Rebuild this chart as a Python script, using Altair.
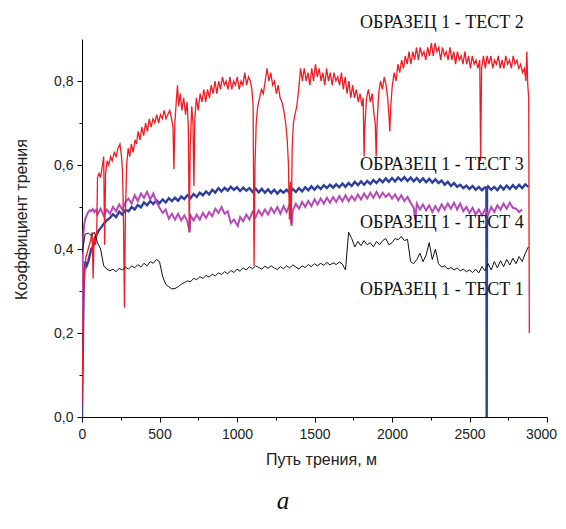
import altair as alt
import pandas as pd

# ---------------- data ----------------
# ОБРАЗЕЦ 1 - ТЕСТ 2 (red)
red_dist = [0, 8, 15, 25, 40, 55, 65, 72, 78, 88, 95, 100, 110, 120, 132, 140, 146, 152, 162, 172, 185, 195,
            208, 220, 232, 245, 255, 262, 268, 274, 280, 288, 298, 308, 318, 330, 342, 352, 362, 374, 386, 398,
            410, 422, 434, 446, 458, 470, 482, 494, 506, 518, 530, 542, 554, 566, 578, 587, 593, 599, 608, 616,
            624, 634, 644, 656, 668, 678, 686, 692, 698, 708, 716, 722, 728, 738, 750, 762, 774, 786, 798, 810,
            822, 834, 846, 858, 870, 882, 894, 906, 918, 930, 942, 954, 966, 978, 990, 1002, 1014, 1026, 1038,
            1050, 1062, 1074, 1086, 1096, 1104, 1110, 1116, 1124, 1134, 1146, 1158, 1170, 1182, 1194, 1206, 1218,
            1230, 1242, 1254, 1266, 1278, 1290, 1302, 1314, 1324, 1332, 1338, 1344, 1350, 1356, 1364, 1374, 1386,
            1398, 1410, 1422, 1434, 1446, 1458, 1470, 1482, 1494, 1506, 1518, 1530, 1542, 1554, 1566, 1578, 1590,
            1602, 1614, 1626, 1638, 1650, 1662, 1674, 1686, 1698, 1710, 1722, 1734, 1746, 1758, 1770, 1782, 1794,
            1806, 1814, 1820, 1826, 1836, 1848, 1860, 1872, 1884, 1892, 1898, 1904, 1914, 1926, 1938, 1950, 1962,
            1972, 1980, 1986, 1992, 2002, 2014, 2026, 2038, 2050, 2062, 2074, 2086, 2098, 2110, 2122, 2134, 2146,
            2158, 2170, 2182, 2194, 2206, 2218, 2230, 2242, 2254, 2266, 2278, 2290, 2302, 2314, 2326, 2338, 2350,
            2362, 2374, 2386, 2398, 2410, 2422, 2434, 2446, 2458, 2470, 2482, 2494, 2506, 2518, 2530, 2542, 2554,
            2566, 2572, 2578, 2590, 2602, 2614, 2626, 2638, 2650, 2662, 2674, 2686, 2698, 2710, 2722, 2734, 2746,
            2758, 2770, 2782, 2794, 2806, 2818, 2830, 2842, 2854, 2864, 2870, 2876, 2882, 2886]
red_cof = [0.03, 0.25, 0.34, 0.38, 0.40, 0.42, 0.44, 0.33, 0.43, 0.41, 0.44, 0.57, 0.58, 0.57, 0.60, 0.62, 0.41,
           0.58, 0.61, 0.60, 0.62, 0.61, 0.63, 0.62, 0.64, 0.65, 0.62, 0.58, 0.46, 0.26, 0.48, 0.60, 0.64, 0.62,
           0.65, 0.63, 0.66, 0.65, 0.68, 0.66, 0.69, 0.67, 0.70, 0.68, 0.71, 0.69, 0.71, 0.70, 0.72, 0.70, 0.72,
           0.71, 0.73, 0.71, 0.72, 0.73, 0.71, 0.69, 0.59, 0.70, 0.75, 0.79, 0.74, 0.77, 0.73, 0.76, 0.72, 0.75,
           0.69, 0.44, 0.64, 0.74, 0.70, 0.55, 0.71, 0.76, 0.73, 0.77, 0.75, 0.78, 0.75, 0.78, 0.76, 0.79, 0.77,
           0.80, 0.77, 0.80, 0.78, 0.81, 0.79, 0.80, 0.78, 0.81, 0.78, 0.80, 0.79, 0.81, 0.78, 0.80, 0.79, 0.82,
           0.79, 0.81, 0.80, 0.78, 0.74, 0.36, 0.60, 0.70, 0.74, 0.76, 0.78, 0.77, 0.80, 0.83, 0.80, 0.82, 0.79,
           0.80, 0.77, 0.79, 0.76, 0.75, 0.73, 0.70, 0.66, 0.60, 0.47, 0.56, 0.46, 0.64, 0.70, 0.72, 0.74, 0.78,
           0.83, 0.80, 0.83, 0.80, 0.82, 0.79, 0.83, 0.80, 0.84, 0.81, 0.83, 0.80, 0.82, 0.79, 0.83, 0.80, 0.82,
           0.79, 0.82, 0.80, 0.81, 0.79, 0.82, 0.78, 0.81, 0.77, 0.80, 0.76, 0.79, 0.76, 0.78, 0.75, 0.77, 0.74,
           0.76, 0.62, 0.70, 0.76, 0.78, 0.75, 0.77, 0.72, 0.70, 0.62, 0.70, 0.77, 0.80, 0.78, 0.81, 0.79, 0.76,
           0.72, 0.68, 0.74, 0.79, 0.82, 0.80, 0.84, 0.82, 0.85, 0.83, 0.86, 0.84, 0.87, 0.84, 0.87, 0.85, 0.88,
           0.85, 0.88, 0.86, 0.87, 0.85, 0.88, 0.86, 0.89, 0.86, 0.89, 0.87, 0.88, 0.85, 0.88, 0.86, 0.87, 0.85,
           0.88, 0.85, 0.87, 0.84, 0.87, 0.85, 0.86, 0.84, 0.87, 0.84, 0.86, 0.83, 0.86, 0.84, 0.85, 0.83, 0.85,
           0.61, 0.83, 0.86, 0.83, 0.86, 0.84, 0.86, 0.83, 0.85, 0.84, 0.86, 0.83, 0.85, 0.83, 0.86, 0.84, 0.85,
           0.83, 0.86, 0.84, 0.85, 0.83, 0.84, 0.82, 0.83, 0.80, 0.87, 0.79, 0.76, 0.20]

# ОБРАЗЕЦ 1 - ТЕСТ 3 (blue)
blue_dist_head = [0, 5, 10, 15, 20, 30, 40, 50, 60, 70, 80, 95, 110, 125, 140, 160, 180]
blue_cof_head = [0.0, 0.15, 0.30, 0.35, 0.37, 0.36, 0.37, 0.385, 0.40, 0.405, 0.42, 0.435, 0.445, 0.452, 0.46,
                 0.468, 0.474]
blue_dist_body = list(range(200, 2900, 20))
blue_cof_body = [0.483, 0.476, 0.489, 0.482, 0.493, 0.490, 0.500, 0.494, 0.505, 0.499,
                 0.511, 0.504, 0.514, 0.507, 0.516, 0.509, 0.518, 0.511, 0.521, 0.514,
                 0.522, 0.515, 0.525, 0.519, 0.528, 0.521, 0.531, 0.524, 0.534, 0.528,
                 0.537, 0.530, 0.541, 0.534, 0.545, 0.537, 0.546, 0.539, 0.548, 0.541,
                 0.547, 0.538, 0.546, 0.539, 0.545, 0.536, 0.544, 0.535, 0.543, 0.534,
                 0.542, 0.533, 0.541, 0.532, 0.540, 0.534, 0.541, 0.533, 0.543, 0.536,
                 0.545, 0.537, 0.547, 0.540, 0.549, 0.541, 0.550, 0.543, 0.552, 0.545,
                 0.553, 0.546, 0.554, 0.547, 0.556, 0.548, 0.557, 0.550, 0.560, 0.552,
                 0.561, 0.553, 0.562, 0.555, 0.564, 0.557, 0.566, 0.559, 0.568, 0.560,
                 0.569, 0.561, 0.570, 0.563, 0.571, 0.562, 0.570, 0.561, 0.569, 0.560,
                 0.568, 0.559, 0.567, 0.558, 0.566, 0.557, 0.563, 0.553, 0.560, 0.550,
                 0.557, 0.548, 0.553, 0.545, 0.551, 0.543, 0.550, 0.541, 0.548, 0.540,
                 0.547, 0.549, 0.541, 0.548, 0.540, 0.550, 0.542, 0.551, 0.543, 0.552,
                 0.544, 0.553, 0.545, 0.554, 0.548]
blue_dist_drop = [2609, 2611, 2613]
blue_cof_drop = [0.546, 0.0, 0.544]

# ОБРАЗЕЦ 1 - ТЕСТ 4 (magenta)
mag_dist_head = [0, 3, 6, 10, 15, 20, 30, 40, 50, 60, 70, 80, 90]
mag_cof_head = [0.20, 0.30, 0.40, 0.44, 0.46, 0.47, 0.48, 0.488, 0.492, 0.49, 0.495, 0.488, 0.493]
mag_dist_body = list(range(100, 2860, 20))
mag_cof_body = [0.482, 0.496, 0.480, 0.494, 0.484, 0.500, 0.490, 0.506, 0.494, 0.512,
                0.520, 0.508, 0.528, 0.514, 0.532, 0.522, 0.536, 0.518, 0.532, 0.512,
                0.498, 0.486, 0.494, 0.472, 0.484, 0.470, 0.484, 0.468, 0.480, 0.466,
                0.480, 0.468, 0.482, 0.470, 0.486, 0.474, 0.488, 0.478, 0.496, 0.486,
                0.500, 0.484, 0.490, 0.462, 0.470, 0.458, 0.476, 0.466, 0.482, 0.470,
                0.488, 0.476, 0.492, 0.480, 0.494, 0.482, 0.498, 0.486, 0.500, 0.484,
                0.502, 0.488, 0.506, 0.492, 0.508, 0.496, 0.512, 0.500, 0.514, 0.502,
                0.518, 0.506, 0.520, 0.508, 0.522, 0.510, 0.524, 0.512, 0.526, 0.514,
                0.528, 0.514, 0.526, 0.516, 0.530, 0.518, 0.532, 0.520, 0.534, 0.522,
                0.536, 0.522, 0.534, 0.524, 0.532, 0.520, 0.530, 0.516, 0.528, 0.514,
                0.524, 0.510, 0.498, 0.508, 0.494, 0.506, 0.492, 0.504, 0.488, 0.502,
                0.490, 0.506, 0.494, 0.508, 0.496, 0.510, 0.494, 0.508, 0.490, 0.500,
                0.486, 0.498, 0.482, 0.494, 0.480, 0.494, 0.482, 0.500, 0.488, 0.504,
                0.494, 0.508, 0.496, 0.510, 0.498, 0.496, 0.488, 0.494]
mag_dist_spikes = [695, 1005, 1352, 2150]
mag_cof_spikes = [0.44, 0.455, 0.455, 0.47]

# ОБРАЗЕЦ 1 - ТЕСТ 1 (black)
black_dist = list(range(0, 2900, 20))
black_cof = [0.39, 0.435, 0.438, 0.432, 0.44, 0.415, 0.40, 0.36, 0.352, 0.348,
             0.352, 0.346, 0.354, 0.35, 0.357, 0.352, 0.36, 0.355, 0.363, 0.357,
             0.366, 0.36, 0.37, 0.366, 0.375, 0.37, 0.335, 0.316, 0.31, 0.305,
             0.306, 0.31, 0.316, 0.32, 0.324, 0.322, 0.33, 0.327, 0.334, 0.33,
             0.337, 0.333, 0.34, 0.336, 0.343, 0.339, 0.346, 0.341, 0.349, 0.344,
             0.352, 0.347, 0.355, 0.35, 0.358, 0.353, 0.36, 0.356, 0.352, 0.359,
             0.354, 0.36, 0.355, 0.351, 0.358, 0.353, 0.36, 0.355, 0.362, 0.357,
             0.352, 0.36, 0.356, 0.363, 0.358, 0.365, 0.36, 0.366, 0.361, 0.368,
             0.362, 0.367, 0.363, 0.369, 0.364, 0.35, 0.44, 0.425, 0.405, 0.418,
             0.408, 0.42, 0.41, 0.415, 0.405, 0.418, 0.41, 0.42, 0.425, 0.41,
             0.415, 0.425, 0.422, 0.43, 0.42, 0.423, 0.37, 0.365, 0.375, 0.39,
             0.37, 0.385, 0.415, 0.375, 0.40, 0.365, 0.357, 0.36, 0.352, 0.356,
             0.35, 0.355, 0.348, 0.352, 0.346, 0.35, 0.344, 0.352, 0.343, 0.358,
             0.348, 0.365, 0.35, 0.37, 0.355, 0.372, 0.358, 0.375, 0.362, 0.378,
             0.365, 0.382, 0.37, 0.39, 0.405]

# series labels
label_text = ["ОБРАЗЕЦ 1 - ТЕСТ 2", "ОБРАЗЕЦ 1 - ТЕСТ 3", "ОБРАЗЕЦ 1 - ТЕСТ 4", "ОБРАЗЕЦ 1 - ТЕСТ 1"]
label_dist = [1794, 1794, 1794, 1794]
label_cof = [0.937, 0.599, 0.461, 0.302]

x_tick_values = list(range(0, 3001, 250))
y_tick_values = [0.0, 0.1, 0.2, 0.3, 0.4, 0.5, 0.6, 0.7, 0.8]

# ---------------- tables ----------------
red_df = pd.DataFrame({"dist": red_dist, "cof": red_cof})
blue_df = pd.DataFrame({"dist": blue_dist_head + blue_dist_body + blue_dist_drop,
                        "cof": blue_cof_head + blue_cof_body + blue_cof_drop}).sort_values("dist")
mag_df = pd.DataFrame({"dist": mag_dist_head + mag_dist_body + mag_dist_spikes,
                       "cof": mag_cof_head + mag_cof_body + mag_cof_spikes}).sort_values("dist")
black_df = pd.DataFrame({"dist": black_dist, "cof": black_cof})
label_df = pd.DataFrame({"dist": label_dist, "cof": label_cof, "text": label_text})

# ---------------- scales & axes ----------------
x_scale = alt.Scale(domain=[0, 3000], nice=False, zero=False)
y_scale = alt.Scale(domain=[0, 0.9], nice=False, zero=False)

x_axis = alt.Axis(
    values=x_tick_values, format="d", labelFlush=False, labelOverlap=False, labelBound=False,
    labelExpr="datum.value % 500 === 0 ? datum.label : ''",
    labelOffset={"condition": {"test": "datum.value === 3000", "value": -6}, "value": 0},
    tickSize={"condition": {"test": "datum.value % 500 === 0", "value": 5}, "value": 3},
    title="Путь трения, м", titleX=239, titlePadding=10,
    grid=False, domainColor="black", tickColor="black", domainWidth=1, tickWidth=1,
    labelFont="Liberation Sans", labelFontSize=14, labelColor="#222", labelPadding=5,
    titleFont="Liberation Sans", titleFontSize=16, titleFontWeight="normal", titleColor="#222",
)
y_axis = alt.Axis(
    values=y_tick_values, labelFlush=False, labelOverlap=False,
    labelExpr="round(datum.value * 10) % 2 === 0 ? replace(format(datum.value, '.1f'), '.', ',') : ''",
    tickSize={"condition": {"test": "round(datum.value * 10) % 2 === 0", "value": 5}, "value": 3},
    title="Коэффициент трения", titleY=180, titlePadding=24,
    grid=False, domainColor="black", tickColor="black", domainWidth=1, tickWidth=1,
    labelFont="Liberation Sans", labelFontSize=14, labelColor="#222", labelPadding=4,
    titleFont="Liberation Sans", titleFontSize=16, titleFontWeight="normal", titleColor="#222",
)

x_enc = alt.X("dist:Q", scale=x_scale, axis=x_axis)
y_enc = alt.Y("cof:Q", scale=y_scale, axis=y_axis)


def line(df, color, width):
    return alt.Chart(df).mark_line(color=color, strokeWidth=width, clip=True).encode(x=x_enc, y=y_enc)


blue = line(blue_df, "#2e3f9e", 2.4)
mag = line(mag_df, "#b64bb6", 2.0)
red = line(red_df, "#ee1c24", 1.3)
black = line(black_df, "#111111", 1.0)

labels = alt.Chart(label_df).mark_text(
    align="left", baseline="middle", font="Liberation Serif", fontSize=18, color="#111"
).encode(x=x_enc, y=y_enc, text="text:N")

letter = alt.Chart(pd.DataFrame({"t": ["а"]})).mark_text(
    font="Liberation Serif", fontStyle="italic", fontSize=25, color="#111", align="center", baseline="middle"
).encode(x=alt.value(201), y=alt.value(462), text="t:N")

chart = alt.layer(blue, mag, red, black, labels, letter).properties(
    width=465, height=378,
    padding={"left": 74, "top": 31, "right": 11, "bottom": 104},
    autosize=alt.AutoSizeParams(type="none"),
).configure_view(stroke=None)

chart.save("out.html", embed_options={"renderer": "svg", "actions": False})
